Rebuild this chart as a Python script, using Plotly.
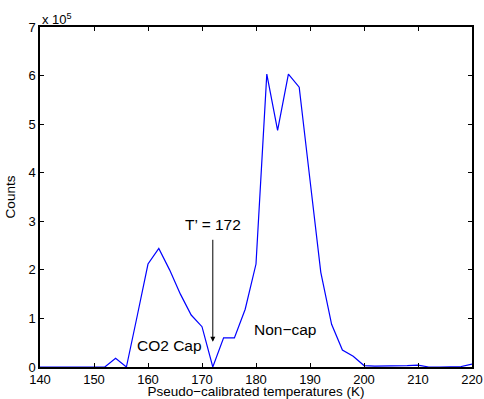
import plotly.graph_objects as go

temps = list(range(140, 222, 2))
counts_e5 = [0, 0, 0, 0, 0, 0, 0, 0.18, 0, 1.05,
             2.12, 2.44, 2.0, 1.5, 1.07, 0.83, 0, 0.6, 0.6, 1.19,
             2.12, 6.03, 4.87, 6.03, 5.76, 3.85, 1.95, 0.88, 0.35, 0.22,
             0.03, 0.02, 0.02, 0.02, 0.03, 0.04, 0.0, 0.0, 0.01, 0.01, 0.06]
counts = [v * 1e5 for v in counts_e5]

x_ticks = list(range(140, 230, 10))
y_ticks = [i * 1e5 for i in range(8)]
y_tick_text = [str(i) for i in range(8)]

font = dict(family="Liberation Sans, Arial, sans-serif", size=13, color="black")

fig = go.Figure()
fig.add_trace(go.Scatter(x=temps, y=counts, mode="lines",
                         line=dict(color="#0000ff", width=1.2), showlegend=False))

fig.update_layout(
    width=484, height=399,
    margin=dict(l=40, r=12, t=27, b=32),
    plot_bgcolor="white", paper_bgcolor="white",
    font=font,
    xaxis=dict(range=[140, 220], tickvals=x_ticks, ticks="inside", ticklen=4,
               showgrid=False, zeroline=False, showline=True, linecolor="black",
               linewidth=1.5, mirror="ticks", tickcolor="black", automargin=False,
               ticklabeloverflow="allow", ticklabelstandoff=0,
               title=dict(text="Pseudo\u2212calibrated temperatures (K)", standoff=1,
                          font=dict(size=13.5))),
    yaxis=dict(range=[0, 7e5], tickvals=y_ticks, ticktext=y_tick_text, ticks="inside",
               ticklen=4, showgrid=False, zeroline=False, showline=True,
               linecolor="black", linewidth=1.5, mirror="ticks", tickcolor="black",
               automargin=False, ticklabeloverflow="allow",
               title=dict(text="Counts", standoff=10, font=dict(size=13.5))),
)

fig.add_annotation(x=172, y=0.52e5, ax=172, ay=2.65e5, axref="x", ayref="y",
                   xref="x", yref="y", showarrow=True, arrowhead=2, arrowsize=1,
                   arrowwidth=1, arrowcolor="black", text="")
fig.add_annotation(x=172, y=2.93e5, text="T\u2019 = 172", showarrow=False,
                   font=dict(size=15.5), xanchor="center", yanchor="middle")
fig.add_annotation(x=163.9, y=0.45e5, text="CO2 Cap", showarrow=False,
                   font=dict(size=15.5), xanchor="center", yanchor="middle")
fig.add_annotation(x=185.4, y=0.78e5, text="Non\u2212cap", showarrow=False,
                   font=dict(size=15.5), xanchor="center", yanchor="middle")
fig.add_annotation(x=140, y=7e5, xref="x", yref="y", text="x 10<sup>5</sup>",
                   showarrow=False, xanchor="left", yanchor="bottom",
                   font=dict(size=13), yshift=-2)

fig.write_html(
    "out.html",
    config={"displayModeBar": False},
    post_script="document.body.style.margin='0';document.body.style.overflow='hidden';",
)
